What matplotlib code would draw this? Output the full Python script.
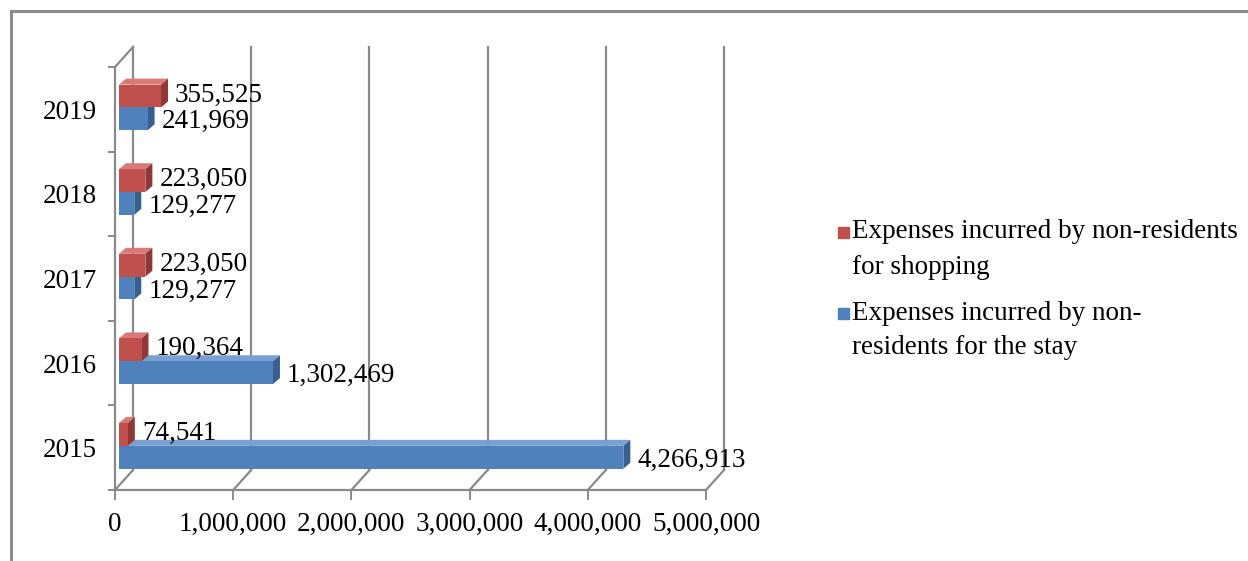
import matplotlib.pyplot as plt
from matplotlib.patches import Polygon, Rectangle
from matplotlib.lines import Line2D
from matplotlib.ticker import FuncFormatter

# data
years = ['2015', '2016', '2017', '2018', '2019']
stay = [4266913, 1302469, 129277, 129277, 241969]
shopping = [74541, 190364, 223050, 223050, 355525]
xticks = [0, 1000000, 2000000, 3000000, 4000000, 5000000]
legend_lines = [['Expenses incurred by non-residents', 'for shopping'],
                ['Expenses incurred by non-', 'residents for the stay']]

plt.rcParams['font.family'] = ['Liberation Serif', 'DejaVu Serif']
FS = 19.5
GRID = '#8a8a8a'

W, H = 1248, 561
fig = plt.figure(figsize=(W / 100, H / 100), dpi=100)

# front plane of the 3d box, in pixels
x0, x1 = 115, 706
ytop, ybot = 67, 490
ax = fig.add_axes([x0 / W, 1 - ybot / H, (x1 - x0) / W, (ybot - ytop) / H])
ax.set_xlim(0, 5e6)
ax.set_ylim(-0.5, 4.5)
ux = 5e6 / (x1 - x0)      # data units per pixel
uy = 5.0 / (ybot - ytop)

# back wall + floor
bdx, bdy = 18 * ux, 20 * uy
for xv in xticks:
    ax.plot([xv + bdx, xv + bdx], [-0.5 + bdy, 4.5 + bdy], color=GRID, lw=1.6, clip_on=False, zorder=1)
    ax.plot([xv, xv + bdx], [-0.5, -0.5 + bdy], color=GRID, lw=1.6, clip_on=False, zorder=1)
ax.plot([0, bdx], [4.5, 4.5 + bdy], color=GRID, lw=1.6, clip_on=False, zorder=1)

# bars (front face a bit behind the front plane)
fx, fy = 4 * ux, 1 * uy
dx, dy = 7 * ux, 6 * uy
h = 0.27
# values, offset, front/top/side colours, label shift (px)
series = [(stay, -0.26, '#4F81BD', '#7A9FD0', '#37608F', -3),
          (shopping, 0.01, '#C0504D', '#D87A77', '#8F3836', 1)]
for vals, off, cf, ct, cs, lsh in series:
    ys = [i + off + fy for i in range(len(years))]
    ax.barh(ys, vals, height=h, left=fx, align='edge', color=cf, zorder=3, clip_on=False)
    for y, v in zip(ys, vals):
        xr = fx + v
        top = Polygon([(fx, y + h), (xr, y + h), (xr + dx, y + h + dy), (fx + dx, y + h + dy)],
                      closed=True, facecolor=ct, edgecolor='none', zorder=2, clip_on=False)
        side = Polygon([(xr, y), (xr + dx, y + dy), (xr + dx, y + h + dy), (xr, y + h)],
                       closed=True, facecolor=cs, edgecolor='none', zorder=2, clip_on=False)
        ax.add_patch(top)
        ax.add_patch(side)
        ax.text(xr + 14 * ux, y + h / 2 + lsh * uy, f'{v:,}', fontsize=FS, ha='left', va='center',
                zorder=4, clip_on=False)

# axes styling
for s in ['top', 'right']:
    ax.spines[s].set_visible(False)
for s in ['left', 'bottom']:
    ax.spines[s].set_color(GRID)
    ax.spines[s].set_linewidth(1.6)
ax.set_xticks(xticks)
ax.xaxis.set_major_formatter(FuncFormatter(lambda v, p: f'{v:,.0f}'))
ax.tick_params(axis='x', direction='out', length=7, width=1.4, color=GRID, pad=9, labelsize=FS)
ax.set_yticks([-0.5, 0.5, 1.5, 2.5, 3.5, 4.5])
ax.set_yticklabels([])
ax.set_yticks(range(len(years)), minor=True)
ax.set_yticklabels(years, minor=True, fontsize=FS)
ax.tick_params(axis='y', which='major', direction='out', length=5, width=1.4, color=GRID)
ax.tick_params(axis='y', which='minor', length=0, pad=13)
ax.patch.set_visible(False)

# legend
leg_cols = ['#C0504D', '#4F81BD']
leg_y = [232, 313]
for lines, col, yy in zip(legend_lines, leg_cols, leg_y):
    fig.add_artist(Rectangle((838 / W, 1 - (yy + 6) / H), 11 / W, 11 / H,
                             transform=fig.transFigure, color=col))
    for k, t in enumerate(lines):
        fig.text(852 / W, 1 - (yy + k * 35) / H, t, fontsize=FS, ha='left', va='center')

# outer frame
fig.add_artist(Line2D([11 / W, 11 / W], [0, 1 - 11 / H], transform=fig.transFigure, color='#8c8c8c', lw=2.2))
fig.add_artist(Line2D([11 / W, 1], [1 - 11 / H, 1 - 11 / H], transform=fig.transFigure, color='#8c8c8c', lw=2.2))

fig.savefig('out.png', dpi=100)
